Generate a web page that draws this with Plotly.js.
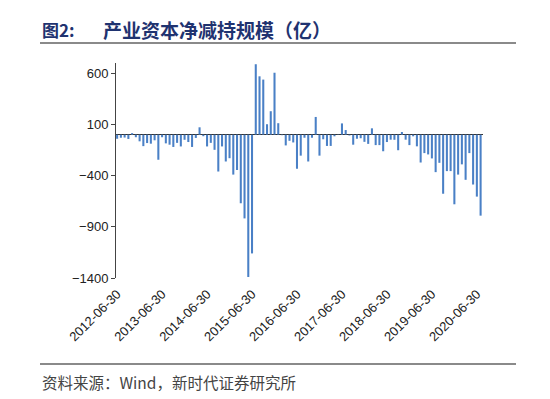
<!DOCTYPE html>
<html><head><meta charset="utf-8">
<script src="https://cdn.plot.ly/plotly-3.0.1.min.js"></script>
<style>html,body{margin:0;padding:0;background:#fff;}#chart{width:550px;height:399px;}</style>
</head><body><div id="chart"></div>
<script>
// Month-end categories, 2012-06 .. 2020-07
const categories = [
  "2012-06-30","2012-07-31","2012-08-31","2012-09-30","2012-10-31","2012-11-30","2012-12-31",
  "2013-01-31","2013-02-28","2013-03-31","2013-04-30","2013-05-31","2013-06-30","2013-07-31","2013-08-31","2013-09-30","2013-10-31","2013-11-30","2013-12-31",
  "2014-01-31","2014-02-28","2014-03-31","2014-04-30","2014-05-31","2014-06-30","2014-07-31","2014-08-31","2014-09-30","2014-10-31","2014-11-30","2014-12-31",
  "2015-01-31","2015-02-28","2015-03-31","2015-04-30","2015-05-31","2015-06-30","2015-07-31","2015-08-31","2015-09-30","2015-10-31","2015-11-30","2015-12-31",
  "2016-01-31","2016-02-29","2016-03-31","2016-04-30","2016-05-31","2016-06-30","2016-07-31","2016-08-31","2016-09-30","2016-10-31","2016-11-30","2016-12-31",
  "2017-01-31","2017-02-28","2017-03-31","2017-04-30","2017-05-31","2017-06-30","2017-07-31","2017-08-31","2017-09-30","2017-10-31","2017-11-30","2017-12-31",
  "2018-01-31","2018-02-28","2018-03-31","2018-04-30","2018-05-31","2018-06-30","2018-07-31","2018-08-31","2018-09-30","2018-10-31","2018-11-30","2018-12-31",
  "2019-01-31","2019-02-28","2019-03-31","2019-04-30","2019-05-31","2019-06-30","2019-07-31","2019-08-31","2019-09-30","2019-10-31","2019-11-30","2019-12-31",
  "2020-01-31","2020-02-29","2020-03-31","2020-04-30","2020-05-31","2020-06-30","2020-07-31"
];
// Net reduction (亿)
const netChange = [
  -40,-30,-28,-42,15,-25,-65,
  -112,-82,-88,-55,-245,-25,-85,-98,-120,-80,-115,-50,
  -72,-120,-32,72,-15,-115,-80,-148,-360,-115,-262,-230,
  -390,-345,-670,-818,-1390,-1160,688,570,538,102,229,605,
  112,-5,-105,-60,-76,-333,-205,-30,-262,-30,173,-205,
  -45,-110,-110,-16,-3,110,45,-8,-98,-40,-35,-70,
  -90,62,-102,-102,-162,-72,-49,-50,-152,26,-49,-102,
  -16,-114,-272,-180,-193,-232,-366,-275,-577,-356,-356,-680,
  -390,-290,-441,-180,-487,-605,-791
];
const tickLabels = ["2012-06-30","2013-06-30","2014-06-30","2015-06-30","2016-06-30","2017-06-30","2018-06-30","2019-06-30","2020-06-30"];
const yTicks = [600,100,-400,-900,-1400];
const titleFig = "图2:";
const titleText = "产业资本净减持规模（亿）";
const sourceText = "资料来源：Wind，新时代证券研究所";

const W = 550, H = 399;
const M = {l:116, r:67, t:63, b:121};
const pw = W - M.l - M.r, ph = H - M.t - M.b;
const px = x => (x - M.l) / pw;
const py = y => (H - M.b - y) / ph;
const xRange = [-0.3, 97.64];
const tickIdx = tickLabels.map(t => categories.indexOf(t));

const trace = {
  type: 'bar', x: categories, y: netChange,
  marker: {color: '#4A80C6', line: {width: 0}},
  hoverinfo: 'x+y'
};

const layout = {
  width: W, height: H,
  margin: M,
  paper_bgcolor: '#fff', plot_bgcolor: '#fff',
  showlegend: false,
  bargap: 0.45,
  font: {family: 'Liberation Sans, Arial, sans-serif', color: '#222'},
  xaxis: {
    type: 'category', range: xRange,
    tickvals: tickLabels, ticktext: tickLabels,
    tickangle: -45, ticks: '', showline: false, showgrid: false, zeroline: false,
    tickfont: {size: 13, color: '#222'}, ticklabelstandoff: 5
  },
  xaxis2: {
    overlaying: 'x', anchor: 'free', position: 1400/2100,
    type: 'linear', range: xRange,
    tickvals: tickIdx, showticklabels: false,
    ticks: 'inside', ticklen: 4, tickcolor: '#333', tickwidth: 1,
    showline: false, showgrid: false, zeroline: false
  },
  yaxis: {
    range: [-1400, 700], tickvals: yTicks,
    showline: true, linecolor: '#444', linewidth: 1,
    ticks: 'outside', ticklen: 4, tickcolor: '#444',
    showgrid: false, zeroline: true, zerolinecolor: '#333', zerolinewidth: 1,
    tickfont: {size: 13, color: '#222'}
  },
  shapes: [
    {type: 'line', xref: 'paper', yref: 'paper', x0: px(40), x1: px(516), y0: py(43), y1: py(43), line: {color: '#8a8a8a', width: 2}},
    {type: 'line', xref: 'paper', yref: 'paper', x0: px(40), x1: px(516), y0: py(364), y1: py(364), line: {color: '#8a8a8a', width: 2}}
  ],
  annotations: [
    {text: '<b>' + titleFig + '</b>', xref: 'paper', yref: 'paper', x: px(40), y: py(30), xanchor: 'left', yanchor: 'middle', showarrow: false,
     font: {family: 'Noto Sans CJK SC', size: 17, color: '#1F3370'}},
    {text: '<b>' + titleText + '</b>', xref: 'paper', yref: 'paper', x: px(101), y: py(30), xanchor: 'left', yanchor: 'middle', showarrow: false,
     font: {family: 'Noto Sans CJK SC', size: 19, color: '#1F3370'}},
    {text: sourceText, xref: 'paper', yref: 'paper', x: px(40), y: py(382), xanchor: 'left', yanchor: 'middle', showarrow: false,
     font: {family: 'Noto Sans CJK SC', size: 15.5, color: '#444'}}
  ]
};

Plotly.newPlot('chart', [trace], layout, {displayModeBar: false, staticPlot: true});
</script>
</body></html>
